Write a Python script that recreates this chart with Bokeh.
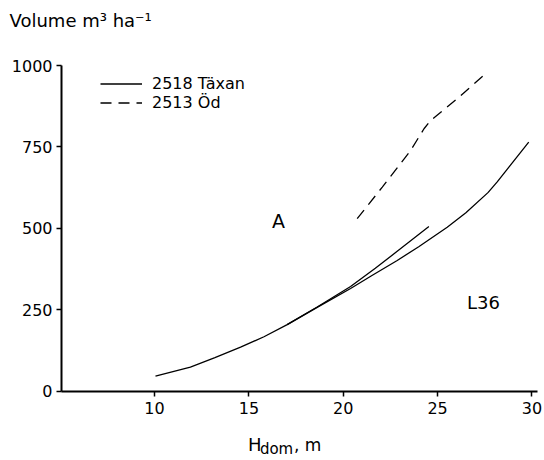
from bokeh.plotting import figure
from bokeh.models import Legend, LegendItem, Label, FixedTicker
from bokeh.embed import file_html
from bokeh.resources import INLINE

# Data
taxan_x = [10.05, 11.9, 13.2, 14.56, 15.8, 17.03, 18.62, 20.39, 21.5, 22.86,
           24.0, 25.51, 26.5, 27.67, 28.16, 28.8, 29.83]
taxan_y = [47, 75, 104, 136, 168, 205, 258, 316, 355, 402,
           444, 504, 548, 610, 643, 690, 765]

branch_x = [17.03, 18.62, 20.39, 21.7, 22.86, 24.54]
branch_y = [205, 259, 322, 378, 430, 506]

od_x = [20.74, 22.07, 23.57, 24.28, 24.63, 26.04, 27.49]
od_y = [530, 627, 739, 806, 831, 898, 972]

x_ticks = [10, 15, 20, 25, 30]
y_ticks = [0, 250, 500, 750, 1000]
x_axis_span = (5.07, 30.3)
y_axis_span = (0, 1000)

legend_labels = ["2518 Täxan", "2513 Öd"]

FONT = "DejaVu Sans"
INK = "black"

# The frame covers the whole canvas; axes are pinned at fixed locations.
p = figure(width=544, height=460, x_range=(1.837, 30.666),
           y_range=(-211.7, 1199.4),
           output_backend="svg", toolbar_location=None,
           min_border_left=0, min_border_right=0, min_border_top=0,
           min_border_bottom=0)
p.outline_line_color = None
p.xgrid.visible = False
p.ygrid.visible = False
p.background_fill_color = "white"
p.border_fill_color = "white"

p.xaxis.fixed_location = y_axis_span[0]
p.yaxis.fixed_location = x_axis_span[0]
p.xaxis.bounds = x_axis_span
p.yaxis.bounds = y_axis_span

for ax in (p.xaxis[0], p.yaxis[0]):
    ax.axis_line_width = 2
    ax.axis_line_color = INK
    ax.major_tick_line_color = INK
    ax.major_tick_line_width = 1.5
    ax.major_tick_out = 5
    ax.major_tick_in = 0
    ax.minor_tick_line_color = None
    ax.major_label_text_font = FONT
    ax.major_label_text_font_size = "16px"
    ax.major_label_text_color = INK

p.xaxis.ticker = FixedTicker(ticks=x_ticks)
p.yaxis.ticker = FixedTicker(ticks=y_ticks)
p.xaxis.major_label_standoff = 6
p.yaxis.major_label_standoff = 4

r1 = p.line(taxan_x, taxan_y, line_color=INK, line_width=1.3)
r2 = p.line(branch_x, branch_y, line_color=INK, line_width=1.3)
r3 = p.line(od_x, od_y, line_color=INK, line_width=1.3, line_dash="11 7")

legend = Legend(items=[LegendItem(label=legend_labels[0], renderers=[r1]),
                       LegendItem(label=legend_labels[1], renderers=[r3])],
                location=(100, 348), padding=0, margin=0, spacing=0,
                glyph_width=42, glyph_height=17, label_height=17,
                label_standoff=10, label_text_font=FONT,
                label_text_font_size="16px", label_text_color=INK,
                background_fill_alpha=0, border_line_alpha=0)
p.add_layout(legend, "center")

def add_label(x, y, text, size, align="left", dx=0, dy=0):
    p.add_layout(Label(x=x, y=y, x_offset=dx, y_offset=dy, text=text,
                       text_font=FONT, text_font_size=size,
                       text_baseline="middle", text_align=align,
                       text_color=INK))

# Y axis title
add_label(x_axis_span[0], 1139, "Volume m³ ha⁻¹", "18px", dx=-52)

# X axis title H_dom, m
add_label(15.0, -163, "H", "18px", dx=-1)
add_label(15.0, -163, "dom", "15px", dx=11, dy=-4)
add_label(15.0, -163, ", m", "17px", dx=45)

# In-plot annotations
add_label(16.57, 524, "A", "19px", align="center")
add_label(27.43, 273, "L36", "18px", align="center")

open("out.html", "w").write(file_html(p, INLINE))
